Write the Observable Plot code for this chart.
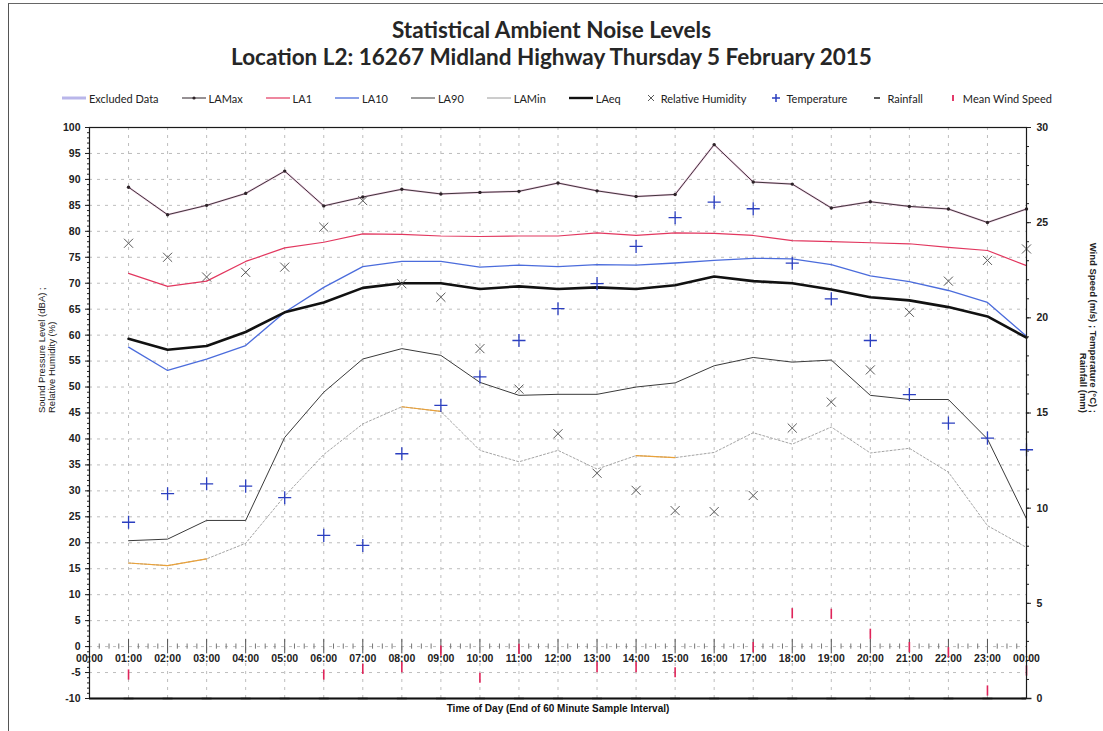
<!DOCTYPE html>
<html>
<head>
<meta charset="utf-8">
<script src="https://cdn.jsdelivr.net/npm/d3@7"></script>
<script src="https://cdn.jsdelivr.net/npm/@observablehq/plot@0.6"></script>
<style>
  html, body { margin: 0; padding: 0; background: #fff; }
  body { width: 1103px; height: 731px; position: relative; overflow: hidden; font-family: Lato, "Open Sans", sans-serif; }
  #sheet-edge { position: absolute; left: 8px; top: 3px; width: 1200px; height: 800px;
    border-left: 1.5px solid #555; border-top: 1.5px solid #666; }
  #title { position: absolute; top: 16px; left: 0; width: 1103px; text-align: center;
    font-family: Lato, sans-serif; font-weight: bold; font-size: 22.5px; line-height: 27px; color: #262626; }
  #legend { position: absolute; top: 90px; left: 62px; width: 990px; height: 16px;
    display: flex; align-items: center; justify-content: space-between;
    font-family: Lato, sans-serif; font-size: 11px; color: #222; }
  #legend .item { display: flex; align-items: center; gap: 3px; white-space: nowrap; }
  #legend svg { display: block; }
  #chart { position: absolute; top: 110px; left: 0; }
</style>
</head>
<body>
<div id="sheet-edge"></div>
<div id="title">Statistical Ambient Noise Levels<br>Location L2: 16267 Midland Highway Thursday 5 February 2015</div>
<div id="legend"></div>
<div id="chart"></div>
<script>
// Hourly statistics, each value is for the 60 minutes ending at the given hour (01:00 … 24:00)
const hourEnd = d3.range(1, 25);
const hourTickLabels = ["00:00","01:00","02:00","03:00","04:00","05:00","06:00","07:00","08:00","09:00","10:00","11:00","12:00",
  "13:00","14:00","15:00","16:00","17:00","18:00","19:00","20:00","21:00","22:00","23:00","00:00"];

// Noise levels, dBA
const laMax = [88.5,83.2,85.0,87.3,91.6,84.9,86.6,88.1,87.2,87.5,87.7,89.3,87.8,86.7,87.1,96.7,89.5,89.1,84.5,85.7,84.8,84.3,81.7,84.3];
const la1   = [71.9,69.4,70.4,74.2,76.8,77.9,79.5,79.4,79.1,79.0,79.1,79.1,79.7,79.2,79.7,79.6,79.2,78.2,78.0,77.8,77.6,76.9,76.3,73.4];
const la10  = [57.7,53.2,55.4,58.0,64.4,69.2,73.2,74.2,74.2,73.1,73.5,73.2,73.6,73.5,73.9,74.4,74.8,74.7,73.6,71.4,70.3,68.6,66.3,59.8];
const la90  = [20.4,20.7,24.3,24.3,40.3,49.0,55.4,57.4,56.1,50.9,48.4,48.6,48.6,50.0,50.8,54.1,55.7,54.8,55.2,48.4,47.6,47.6,40.0,24.6];
const laMin = [16.1,15.6,16.9,19.9,29.0,37.0,42.9,46.2,45.3,37.8,35.6,37.8,34.2,36.8,36.4,37.4,41.2,39.0,42.3,37.3,38.2,33.6,23.3,19.1];
const laEq  = [59.3,57.2,57.9,60.6,64.4,66.3,69.1,70.0,70.0,68.9,69.4,68.9,69.2,68.9,69.6,71.3,70.4,70.0,68.8,67.3,66.7,65.4,63.6,59.5];

// Weather: humidity (%) on the left scale; temperature, wind and rain on the right scale
const humidity    = [77.7,75.0,71.2,72.1,73.1,80.8,85.9,69.9,67.3,57.4,49.6,41.0,33.4,30.1,26.2,26.0,29.1,42.1,47.1,53.3,64.4,70.4,74.4,76.6];
const temperature = [9.26,10.76,11.28,11.16,10.55,8.57,8.04,12.86,15.40,16.90,18.81,20.48,21.80,23.75,25.26,26.08,25.73,22.87,21.00,18.81,15.97,14.47,13.68,13.07];
const windSpeed   = [1.26,null,null,null,null,1.26,1.56,1.65,2.52,1.09,2.61,null,1.65,1.65,1.38,null,2.70,4.48,4.45,3.40,2.70,2.43,0.42,1.47];
const rainfall    = [0,0,0,0,0,0,0,0,0,0,0,0,0,0,0,0,0,0,0,0,0,0,0,0];

// LAMin stretches flagged in orange
const laMinFlagged = [[1, 3], [8, 9], [14, 15]];

// Axis ranges
const leftTicks = d3.range(-10, 101, 5);
const rightTicks = d3.range(0, 31, 5);
const leftDomain = [-10, 100];
const rightDomain = [0, 30];
// Right-axis quantities are drawn on the shared (left) y scale
const toLeft = v => leftDomain[0] + (v - rightDomain[0]) * (leftDomain[1] - leftDomain[0]) / (rightDomain[1] - rightDomain[0]);

const rows = hourEnd.map((h, i) => ({
  h, laMax: laMax[i], la1: la1[i], la10: la10[i], la90: la90[i], laMin: laMin[i], laEq: laEq[i],
  rh: humidity[i],
  temp: toLeft(temperature[i]),
  wind: windSpeed[i] == null ? null : toLeft(windSpeed[i]),
  rain: toLeft(rainfall[i])
}));

const colors = {
  excluded: "#b9b6ea", laMax: "#2d2328", laMaxTint: "#dfa6cc", la1: "#e2375f", la10: "#4b6cdc",
  la90: "#3a3a3a", laMin: "#9a9a9a", laMinFlag: "#eaa23a", laEq: "#111", rh: "#5a5a5a",
  temp: "#2b3fc0", rain: "#222", wind: "#e0245a"
};

// Marker shapes for the small weather symbols
const vbar = { draw(ctx, size) { const h = Math.sqrt(size) * 0.8; ctx.moveTo(0, -h); ctx.lineTo(0, h); } };
const hbar = { draw(ctx, size) { const w = Math.sqrt(size) * 0.7; ctx.moveTo(-w, 0); ctx.lineTo(w, 0); } };

const gridDash = "3,5";
const chart = Plot.plot({
  width: 1103,
  height: 615,
  marginLeft: 89,
  marginRight: 77,
  marginTop: 17,
  marginBottom: 27,
  style: { fontFamily: "Liberation Sans, Arial, sans-serif", fontSize: "10px", color: "#222", background: "transparent" },
  x: { domain: [0, 24], axis: null },
  y: { domain: leftDomain, axis: null },
  marks: [
    // dashed grid
    Plot.gridY(leftTicks, { stroke: "#bdbdbd", strokeOpacity: 1, strokeDasharray: gridDash }),
    Plot.gridX(d3.range(0, 25), { stroke: "#bdbdbd", strokeOpacity: 1, strokeDasharray: gridDash }),

    // left axis: major labelled ticks plus unit minor ticks
    Plot.axisY(leftTicks, { anchor: "left", tickSize: 4, tickPadding: 5, fontWeight: "bold", fontSize: 10.5, tickFormat: d => String(d) }),
    Plot.axisY(d3.range(-10, 101, 1), { anchor: "left", tickSize: 2, tickFormat: () => "" }),
    // right axis in its own units
    Plot.axisY(rightTicks.map(toLeft), { anchor: "right", tickSize: 4, tickPadding: 6, fontWeight: "bold", fontSize: 10.5,
      tickFormat: (d, i) => String(rightTicks[i]) }),
    Plot.axisY(d3.range(0, 31, 1).map(toLeft), { anchor: "right", tickSize: 2, tickFormat: () => "" }),

    // time axis sits on the zero line
    Plot.ruleX(d3.range(0, 25), { x: d => d, y1: -1.4, y2: 1.4, stroke: "#555" }),
    Plot.ruleX(d3.range(0, 24.01, 0.25).filter(d => d % 1 !== 0), { x: d => d, y1: -0.5, y2: 0.5, stroke: "#777" }),
    Plot.text(d3.range(0, 25), { x: d => d, y: 0, text: d => hourTickLabels[d], dy: 12, fontWeight: "bold", fontSize: 10.5, fill: "#222" }),

    // noise statistics
    Plot.line(rows, { x: "h", y: "laMax", stroke: colors.laMaxTint, strokeWidth: 2, strokeOpacity: 0.6 }),
    Plot.line(rows, { x: "h", y: "laMax", stroke: colors.laMax, strokeWidth: 0.9 }),
    Plot.dot(rows, { x: "h", y: "laMax", r: 1.7, fill: colors.laMax }),
    Plot.line(rows, { x: "h", y: "la1", stroke: colors.la1, strokeWidth: 1.2 }),
    Plot.line(rows, { x: "h", y: "la10", stroke: colors.la10, strokeWidth: 1.3 }),
    Plot.line(rows, { x: "h", y: "la90", stroke: colors.la90, strokeWidth: 1 }),
    Plot.line(rows, { x: "h", y: "laMin", stroke: colors.laMin, strokeWidth: 0.9, strokeDasharray: "2,2" }),
    ...laMinFlagged.map(([a, b]) => Plot.line(rows.filter(r => r.h >= a && r.h <= b), { x: "h", y: "laMin", stroke: colors.laMinFlag, strokeWidth: 1.2 })),
    Plot.line(rows, { x: "h", y: "laEq", stroke: colors.laEq, strokeWidth: 2.6 }),

    // weather markers
    Plot.dot(rows, { x: "h", y: "rh", symbol: "times", r: 4.2, stroke: colors.rh, strokeWidth: 1 }),
    Plot.dot(rows, { x: "h", y: "temp", symbol: "plus", r: 4.3, stroke: colors.temp, strokeWidth: 1.3 }),
    Plot.dot(rows, { x: "h", y: "wind", symbol: vbar, r: 3.6, stroke: colors.wind, strokeWidth: 1.6 }),
    Plot.dot(rows, { x: "h", y: "rain", symbol: hbar, r: 4, stroke: colors.rain, strokeWidth: 1.5 }),

    // plot border, heavier along the bottom
    Plot.frame({ stroke: "#1a1a1a", strokeWidth: 1.2 }),
    Plot.ruleY([leftDomain[0]], { stroke: "#111", strokeWidth: 2.2 }),

    // axis titles
    Plot.text(["Time of Day (End of 60 Minute Sample Interval)"], { frameAnchor: "bottom", dy: 13, fontWeight: "bold", fontSize: 10, fill: "#111" }),
    Plot.text(["Sound Pressure Level (dBA) ;\nRelative Humidity (%)"], { frameAnchor: "left", dx: -43, rotate: -90, fontSize: 9.5, fill: "#222", lineHeight: 1.15 }),
    Plot.text(["Wind Speed (m/s) ; Temperature (°C) ;\nRainfall (mm)"], { frameAnchor: "right", dx: 62, rotate: 90, fontSize: 9.5, fontWeight: "bold", fill: "#222", lineHeight: 1.15 })
  ]
});
document.getElementById("chart").appendChild(chart);

// legend
const legendItems = [
  { label: "Excluded Data", kind: "line", color: colors.excluded, width: 3 },
  { label: "LAMax", kind: "line", color: colors.laMax, width: 1, dot: true },
  { label: "LA1", kind: "line", color: colors.la1, width: 1.2 },
  { label: "LA10", kind: "line", color: colors.la10, width: 1.3 },
  { label: "LA90", kind: "line", color: colors.la90, width: 1 },
  { label: "LAMin", kind: "line", color: colors.laMin, width: 1 },
  { label: "LAeq", kind: "line", color: colors.laEq, width: 2.4 },
  { label: "Relative Humidity", kind: "times", color: colors.rh },
  { label: "Temperature", kind: "plus", color: colors.temp },
  { label: "Rainfall", kind: "dash", color: colors.rain },
  { label: "Mean Wind Speed", kind: "vbar", color: colors.wind }
];
const legend = d3.select("#legend");
for (const it of legendItems) {
  const item = legend.append("div").attr("class", "item");
  const isLine = it.kind === "line";
  const w = isLine ? 24 : 14;
  const s = item.append("svg").attr("width", w).attr("height", 12);
  if (isLine) {
    s.append("line").attr("x1", 0).attr("x2", w).attr("y1", 6).attr("y2", 6)
      .attr("stroke", it.color).attr("stroke-width", it.width);
    if (it.dot) s.append("circle").attr("cx", w / 2).attr("cy", 6).attr("r", 1.6).attr("fill", it.color);
  } else if (it.kind === "times") {
    s.append("path").attr("d", "M4,3L10,9M10,3L4,9").attr("stroke", it.color).attr("stroke-width", 1);
  } else if (it.kind === "plus") {
    s.append("path").attr("d", "M7,2V10M3,6H11").attr("stroke", it.color).attr("stroke-width", 1.5);
  } else if (it.kind === "dash") {
    s.append("path").attr("d", "M4,6H10").attr("stroke", it.color).attr("stroke-width", 1.5);
  } else {
    s.append("path").attr("d", "M7,3V9").attr("stroke", it.color).attr("stroke-width", 1.8);
  }
  item.append("span").text(it.label);
}
</script>
</body>
</html>
